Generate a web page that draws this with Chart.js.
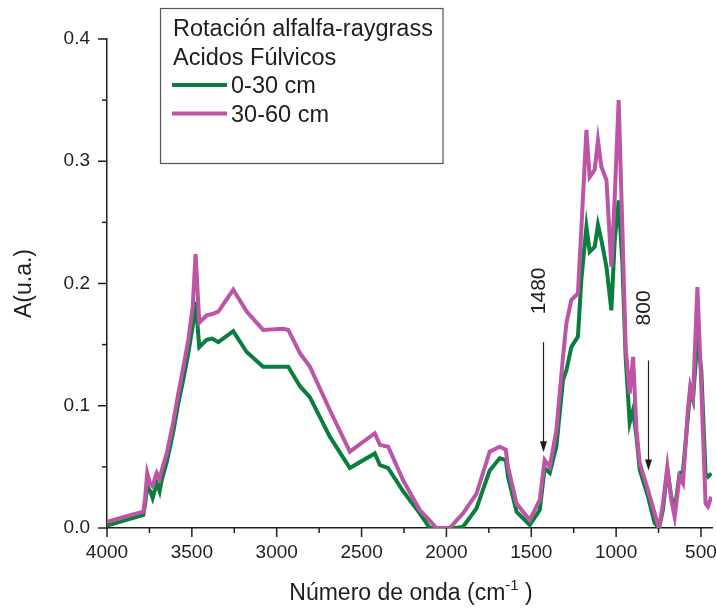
<!DOCTYPE html>
<html>
<head>
<meta charset="utf-8">
<script src="https://cdn.jsdelivr.net/npm/chart.js@4.4.1/dist/chart.umd.min.js"></script>
<style>
  html, body { margin: 0; padding: 0; background: #fff; }
  #wrap { width: 716px; height: 609px; position: relative; }
</style>
</head>
<body>
<div id="wrap"><canvas id="myChart" width="716" height="609"></canvas></div>
<script>
// Spectrum data (wavenumber in cm-1, absorbance in u.a.)
const wavenumbers = [4000, 3900, 3786, 3775, 3763, 3745, 3731, 3715, 3707, 3690, 3678, 3648, 3609, 3580, 3551, 3521, 3495, 3478, 3456, 3413, 3380, 3344, 3256, 3177, 3080, 2962, 2932, 2863, 2805, 2687, 2569, 2422, 2392, 2343, 2255, 2157, 2098, 2059, 1980, 1941, 1902, 1823, 1745, 1686, 1650, 1637, 1587, 1509, 1450, 1421, 1391, 1352, 1313, 1293, 1264, 1225, 1205, 1175, 1156, 1126, 1107, 1087, 1057, 1028, 1008, 985, 963, 944, 920, 900, 880, 861, 812, 773, 747, 724, 698, 675, 655, 626, 606, 577, 563, 547, 521, 498, 473, 459, 439];
const depth0_30 = [0.002, 0.006, 0.0106, 0.020, 0.034, 0.030, 0.0245, 0.033, 0.037, 0.030, 0.039, 0.054, 0.079, 0.102, 0.121, 0.143, 0.165, 0.185, 0.148, 0.154, 0.155, 0.152, 0.161, 0.144, 0.132, 0.132, 0.132, 0.116, 0.107, 0.0747, 0.049, 0.061, 0.0515, 0.049, 0.030, 0.012, 0.0, 0.0, 0.0, 0.0, 0.001, 0.016, 0.047, 0.057, 0.0556, 0.042, 0.0133, 0.0025, 0.0147, 0.049, 0.045, 0.0665, 0.121, 0.129, 0.148, 0.1565, 0.203, 0.2465, 0.226, 0.230, 0.248, 0.2356, 0.2137, 0.178, 0.2356, 0.268, 0.2165, 0.140, 0.086, 0.0965, 0.0747, 0.0475, 0.0256, 0.004, 0.0, 0.015, 0.0475, 0.0256, 0.0147, 0.0447, 0.046, 0.091, 0.113, 0.105, 0.155, 0.129, 0.0447, 0.042, 0.0447];
const depth30_60 = [0.005, 0.009, 0.0133, 0.025, 0.045, 0.036, 0.034, 0.042, 0.045, 0.040, 0.047, 0.061, 0.087, 0.110, 0.131, 0.154, 0.181, 0.224, 0.168, 0.174, 0.175, 0.177, 0.195, 0.177, 0.162, 0.163, 0.162, 0.143, 0.132, 0.0965, 0.0625, 0.0775, 0.068, 0.0665, 0.039, 0.0147, 0.006, 0.0, 0.0, 0.006, 0.012, 0.028, 0.0625, 0.0665, 0.064, 0.050, 0.020, 0.0065, 0.023, 0.0556, 0.050, 0.080, 0.140, 0.1675, 0.1865, 0.192, 0.244, 0.3256, 0.287, 0.293, 0.317, 0.2955, 0.2847, 0.2137, 0.271, 0.350, 0.244, 0.148, 0.110, 0.140, 0.080, 0.053, 0.031, 0.012, 0.0, 0.020, 0.050, 0.023, 0.009, 0.042, 0.0365, 0.0965, 0.1156, 0.107, 0.197, 0.1156, 0.020, 0.0175, 0.0256];

const seriesLabels = ['0-30 cm', '30-60 cm'];
const legendTitle = ['Rotación alfalfa-raygrass', 'Acidos Fúlvicos'];
const xTickValues = [500, 1000, 1500, 2000, 2500, 3000, 3500, 4000];
const yTickValues = [0, 0.1, 0.2, 0.3, 0.4];
const bandMarks = ['1480', '800'];
const bandArrowAt = [1432, 814];      // where the arrows stand on the axis (cm-1)
const bandArrowTop = [0.152, 0.137];  // arrow start (u.a.)
const bandArrowTip = [0.062, 0.047];  // arrow tip (u.a.)
const bandLabelAt = [0.194, 0.180];   // centre of the rotated label (u.a.)

const GREEN = '#0a7f3d';
const MAGENTA = '#bd55a6';
const INK = '#1e1e1e';
const FONT = '"Liberation Sans", Arial, sans-serif';

function points(values) {
    return wavenumbers.map((w, i) => ({ x: w, y: values[i] }));
}

// Axis ticks, legend box, arrows and x title drawn on top
const decorations = {
    id: 'decorations',
    afterDraw(chart) {
        const ctx = chart.ctx;
        const xs = chart.scales.x;
        const ys = chart.scales.y;
        const area = chart.chartArea;
        ctx.save();
        ctx.strokeStyle = INK;
        ctx.lineWidth = 1.5;

        // x tick marks, major + minor
        for (let i = 0; i < xTickValues.length; i++) {
            const v = xTickValues[i];
            const px = xs.getPixelForValue(v);
            ctx.beginPath();
            ctx.moveTo(px, area.bottom);
            ctx.lineTo(px, area.bottom + 9);
            ctx.stroke();
            if (i < xTickValues.length - 1) {
                const m = xs.getPixelForValue((v + xTickValues[i + 1]) / 2);
                ctx.beginPath();
                ctx.moveTo(m, area.bottom);
                ctx.lineTo(m, area.bottom + 5);
                ctx.stroke();
            }
        }
        // y tick marks
        for (let i = 0; i < yTickValues.length; i++) {
            const v = yTickValues[i];
            const py = ys.getPixelForValue(v);
            ctx.beginPath();
            ctx.moveTo(area.left, py);
            ctx.lineTo(area.left - 9, py);
            ctx.stroke();
            if (i < yTickValues.length - 1) {
                const m = ys.getPixelForValue((v + yTickValues[i + 1]) / 2);
                ctx.beginPath();
                ctx.moveTo(area.left, m);
                ctx.lineTo(area.left - 5, m);
                ctx.stroke();
            }
        }

        // legend box
        ctx.strokeStyle = '#555';
        ctx.lineWidth = 1.2;
        ctx.strokeRect(160.5, 8.5, 282.5, 155);
        ctx.fillStyle = INK;
        ctx.font = '23.5px ' + FONT;
        ctx.textAlign = 'left';
        ctx.textBaseline = 'alphabetic';
        ctx.fillText(legendTitle[0], 173, 36);
        ctx.fillText(legendTitle[1], 173, 65);
        const colors = [GREEN, MAGENTA];
        for (let i = 0; i < seriesLabels.length; i++) {
            const ly = 85 + i * 28.5;
            ctx.strokeStyle = colors[i];
            ctx.lineWidth = 4;
            ctx.beginPath();
            ctx.moveTo(172, ly);
            ctx.lineTo(227, ly);
            ctx.stroke();
            ctx.fillText(seriesLabels[i], 231, ly + 8);
        }

        // band arrows with rotated labels
        ctx.strokeStyle = INK;
        ctx.fillStyle = INK;
        ctx.lineWidth = 1.2;
        bandMarks.forEach((b, i) => {
            const ax = Math.round(xs.getPixelForValue(bandArrowAt[i])) + 0.5;
            const top = ys.getPixelForValue(bandArrowTop[i]);
            const bot = ys.getPixelForValue(bandArrowTip[i]);
            ctx.beginPath();
            ctx.moveTo(ax, top);
            ctx.lineTo(ax, bot - 8);
            ctx.stroke();
            ctx.beginPath();
            ctx.moveTo(ax, bot);
            ctx.lineTo(ax - 3.5, bot - 11);
            ctx.lineTo(ax + 3.5, bot - 11);
            ctx.closePath();
            ctx.fill();
            ctx.save();
            ctx.translate(ax - 4, ys.getPixelForValue(bandLabelAt[i]));
            ctx.rotate(-Math.PI / 2);
            ctx.font = '21px ' + FONT;
            ctx.textAlign = 'center';
            ctx.textBaseline = 'middle';
            ctx.fillText(b, 0, 0);
            ctx.restore();
        });

        // x axis title with superscript
        const main = 'Número de onda (cm';
        const sup = '-1';
        const tail = ' )';
        ctx.font = '23px ' + FONT;
        const wMain = ctx.measureText(main).width;
        const wTail = ctx.measureText(tail).width;
        ctx.font = '15px ' + FONT;
        const wSup = ctx.measureText(sup).width;
        let tx = 411 - (wMain + wSup + wTail) / 2;
        const base = 600;
        ctx.textAlign = 'left';
        ctx.textBaseline = 'alphabetic';
        ctx.font = '23px ' + FONT;
        ctx.fillText(main, tx, base);
        tx += wMain;
        ctx.font = '15px ' + FONT;
        ctx.fillText(sup, tx, base - 10);
        tx += wSup;
        ctx.font = '23px ' + FONT;
        ctx.fillText(tail, tx, base);
        ctx.restore();
    }
};

const ctx = document.getElementById('myChart').getContext('2d');
const myChart = new Chart(ctx, {
    type: 'line',
    data: {
        datasets: [
            {
                label: seriesLabels[0],
                data: points(depth0_30),
                borderColor: GREEN,
                borderWidth: 4,
                pointRadius: 0,
                tension: 0,
                fill: false,
                order: 1
            },
            {
                label: seriesLabels[1],
                data: points(depth30_60),
                borderColor: MAGENTA,
                borderWidth: 4,
                pointRadius: 0,
                tension: 0,
                fill: false,
                order: 0
            }
        ]
    },
    options: {
        responsive: false,
        animation: false,
        layout: { padding: { top: 39, right: 4, left: 0, bottom: 0 } },
        plugins: {
            legend: { display: false },
            tooltip: { enabled: false }
        },
        scales: {
            x: {
                type: 'linear',
                reverse: true,
                min: 435,
                max: 4000,
                afterBuildTicks: scale => {
                    scale.ticks = xTickValues.map(v => ({ value: v }));
                },
                afterFit: scale => {
                    scale.height = 81;
                    scale.paddingLeft = 0;
                    scale.paddingRight = 0;
                },
                ticks: {
                    autoSkip: false,
                    maxRotation: 0,
                    padding: 13,
                    color: INK,
                    font: { family: FONT, size: 19 },
                    callback: value => String(value)
                },
                grid: { drawOnChartArea: false, drawTicks: false },
                border: { display: true, color: INK, width: 1.5 }
            },
            y: {
                min: 0,
                max: 0.4,
                afterBuildTicks: scale => {
                    scale.ticks = yTickValues.map(v => ({ value: v }));
                },
                afterFit: scale => {
                    scale.width = 107;
                    scale.paddingTop = 0;
                    scale.paddingBottom = 0;
                },
                ticks: {
                    padding: 17,
                    color: INK,
                    font: { family: FONT, size: 19 },
                    callback: value => value.toFixed(1)
                },
                title: {
                    display: true,
                    text: 'A(u.a.)',
                    color: INK,
                    font: { family: FONT, size: 23 },
                    padding: { top: 11, bottom: 4 }
                },
                grid: { drawOnChartArea: false, drawTicks: false },
                border: { display: true, color: INK, width: 1.5 }
            }
        }
    },
    plugins: [decorations]
});
</script>
</body>
</html>
